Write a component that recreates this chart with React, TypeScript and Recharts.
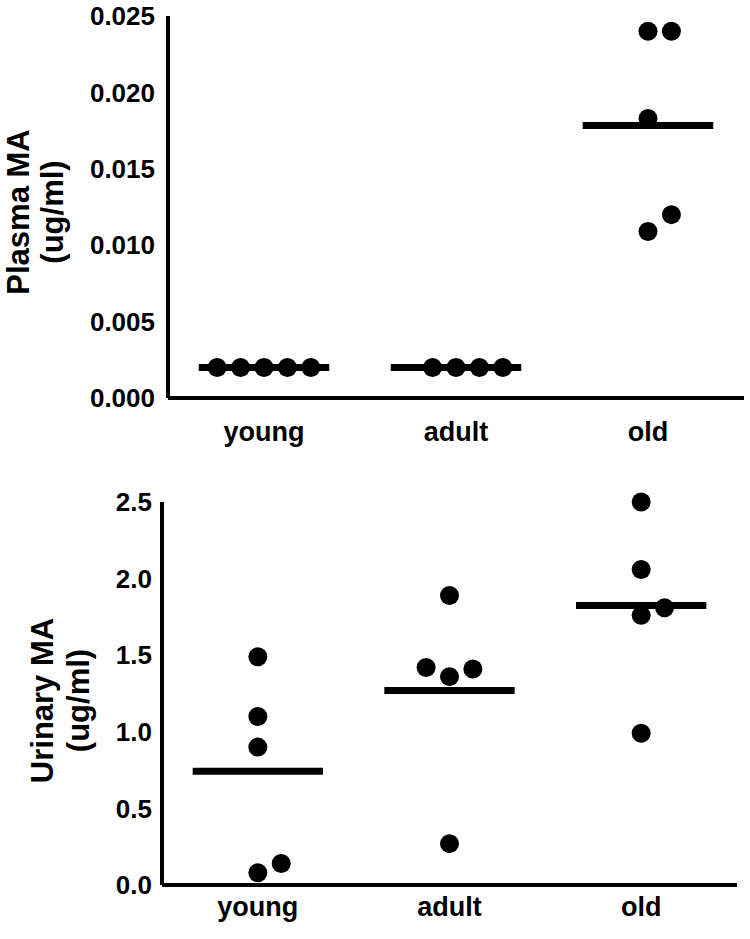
import React from 'react';
import { ScatterChart, Scatter, XAxis, YAxis, ReferenceLine } from 'recharts';

const groups = ['young', 'adult', 'old'];

const plasmaYoung = [0.002, 0.002, 0.002, 0.002, 0.002];
const plasmaAdult = [0.002, 0.002, 0.002, 0.002];
const plasmaOld = [0.024, 0.024, 0.0183, 0.012, 0.0109];

const urinaryYoung = [1.49, 1.1, 0.9, 0.14, 0.08];
const urinaryAdult = [1.89, 1.41, 1.36, 1.42, 0.27];
const urinaryOld = [2.5, 2.06, 1.81, 1.76, 0.99];

const plasmaTicks = [0, 0.005, 0.01, 0.015, 0.02, 0.025];
const urinaryTicks = [0, 0.5, 1, 1.5, 2, 2.5];

const FONT = '"Liberation Sans", Arial, Helvetica, sans-serif';
const DOT_R = 9.5;
const SLOT = 0.122; // horizontal step between tied dots, in category units
const HALF = 0.34; // half width of the mean bar

// simple beeswarm: points that would overlap go to the next free slot 0, +1, -1, +2 ...
function swarm(values: number[], tol: number) {
  const order = values.map((_, i) => i).sort((a, b) => values[a] - values[b]);
  const placed: { v: number; s: number }[] = [];
  const slots: number[] = new Array(values.length).fill(0);
  const cands = [0, 1, -1, 2, -2, 3, -3];
  for (const i of order) {
    const v = values[i];
    const s = cands.find((c) => !placed.some((p) => p.s === c && Math.abs(p.v - v) < tol)) ?? 0;
    placed.push({ v, s });
    slots[i] = s;
  }
  return slots;
}

const mean = (a: number[]) => a.reduce((s, v) => s + v, 0) / a.length;

function buildPoints(sets: number[][], tol: number) {
  return sets.flatMap((vals, gi) => {
    const slots = swarm(vals, tol);
    return vals.map((v, i) => ({ x: gi + 0.5 + slots[i] * SLOT, y: v }));
  });
}

const Dot = (p: any) => <circle cx={p.cx} cy={p.cy} r={DOT_R} fill="#000" />;

const AxisTitle = (props: any) => {
  const { viewBox, lines } = props;
  const cy = viewBox.y + viewBox.height / 2;
  return (
    <g>
      {lines.map((l: any, i: number) => (
        <text
          key={i}
          x={l.x}
          y={cy + l.dy}
          transform={`rotate(-90, ${l.x}, ${cy + l.dy})`}
          textAnchor="middle"
          fill="#000"
          fontSize={31}
          fontWeight={700}
          fontFamily={FONT}
        >
          {l.text}
        </text>
      ))}
    </g>
  );
};

type PanelProps = {
  sets: number[][];
  ticks: number[];
  digits: number;
  height: number;
  margin: { top: number; right: number; left: number; bottom: number };
  yWidth: number;
  xHeight: number;
  yTickGap: number;
  xTickGap: number;
  titles: { text: string; x: number; dy: number }[];
};

function Panel({ sets, ticks, digits, height, margin, yWidth, xHeight, yTickGap, xTickGap, titles }: PanelProps) {
  const max = ticks[ticks.length - 1];
  const plotH = height - margin.top - margin.bottom - xHeight;
  const tol = ((DOT_R * 2) / plotH) * max;
  const points = buildPoints(sets, tol);
  return (
    <ScatterChart width={750} height={height} margin={margin}>
      <XAxis
        type="number"
        dataKey="x"
        domain={[0, 3]}
        ticks={[0.5, 1.5, 2.5]}
        tickFormatter={(v: number) => groups[Math.floor(v)]}
        axisLine={{ stroke: '#000', strokeWidth: 4 }}
        tickLine={false}
        tickSize={0}
        tickMargin={xTickGap}
        height={xHeight}
        tick={{ fill: '#000', fontSize: 27, fontWeight: 700, fontFamily: FONT }}
      />
      <YAxis
        type="number"
        dataKey="y"
        domain={[0, max]}
        ticks={ticks}
        tickFormatter={(v: number) => v.toFixed(digits)}
        axisLine={{ stroke: '#000', strokeWidth: 4 }}
        tickLine={false}
        tickSize={0}
        tickMargin={yTickGap}
        width={yWidth}
        tick={{ fill: '#000', fontSize: 26, fontWeight: 700, fontFamily: FONT }}
        label={{ content: (p: any) => <AxisTitle {...p} lines={titles} /> }}
      />
      {sets.map((vals, gi) => (
        <ReferenceLine
          key={gi}
          segment={[
            { x: gi + 0.5 - HALF, y: mean(vals) },
            { x: gi + 0.5 + HALF, y: mean(vals) },
          ]}
          stroke="#000"
          strokeWidth={7}
        />
      ))}
      <Scatter data={points} shape={Dot} isAnimationActive={false} />
    </ScatterChart>
  );
}

export default function App() {
  return (
    <div style={{ position: 'absolute', left: 0, top: 0, width: 750, height: 939, background: '#fff', fontFamily: FONT }}>
      <Panel
        sets={[plasmaYoung, plasmaAdult, plasmaOld]}
        ticks={plasmaTicks}
        digits={3}
        height={460}
        margin={{ top: 16, right: 6, left: 0, bottom: 0 }}
        yWidth={168}
        xHeight={62}
        yTickGap={13}
        xTickGap={24}
        titles={[
          { text: 'Plasma MA', x: 29, dy: 5 },
          { text: '(ug/ml)', x: 63, dy: 5 },
        ]}
      />
      <Panel
        sets={[urinaryYoung, urinaryAdult, urinaryOld]}
        ticks={urinaryTicks}
        digits={1}
        height={479}
        margin={{ top: 42, right: 13, left: 0, bottom: 0 }}
        yWidth={162}
        xHeight={54}
        yTickGap={10}
        xTickGap={12}
        titles={[
          { text: 'Urinary MA', x: 53, dy: 7 },
          { text: '(ug/ml)', x: 89, dy: 7 },
        ]}
      />
    </div>
  );
}
